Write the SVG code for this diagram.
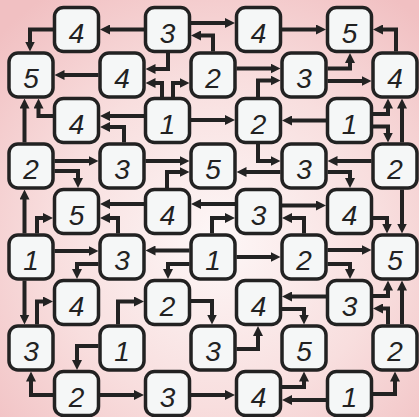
<svg xmlns="http://www.w3.org/2000/svg" width="419" height="417" viewBox="0 0 419 417">
<defs>
<radialGradient id="bg" cx="0.52" cy="0.58" r="0.72">
<stop offset="0" stop-color="#fdf7f7"/>
<stop offset="0.55" stop-color="#f8dede"/>
<stop offset="1" stop-color="#f1c0c2"/>
</radialGradient>
<marker id="ah" markerUnits="userSpaceOnUse" markerWidth="10" markerHeight="10" refX="2" refY="5" orient="auto">
<path d="M0,0 L10,5 L0,10 Z" fill="#222"/>
</marker>
<style>
.node rect{fill:#f5f7f7;stroke:#222;stroke-width:3.5}
.node text{font-family:"Liberation Sans","DejaVu Sans",sans-serif;font-size:28px;font-style:italic;fill:#222;text-anchor:middle}
#connectors path{fill:none;stroke:#222;stroke-width:4;marker-end:url(#ah)}
</style>
</defs>
<rect width="419" height="417" fill="url(#bg)"/>
<g id="connectors">
<path d="M144,29.5 H108"/>
<path d="M53,29.5 H30 V43.5"/>
<path d="M191,23 H227"/>
<path d="M213,51.5 V35.5 H199"/>
<path d="M282,29.5 H318"/>
<path d="M396,51.5 V29.5 H381"/>
<path d="M168,53 V69 H153.5"/>
<path d="M98.5,75 H62.5"/>
<path d="M162,97 V83 H153.5"/>
<path d="M173,97 V83 H181.5"/>
<path d="M236.5,68.5 H272.5"/>
<path d="M258,97 V80.5 H272.5"/>
<path d="M327.5,68.5 H350 V61"/>
<path d="M327.5,81 H363.5"/>
<path d="M144,116 H108"/>
<path d="M53,116 H38.5 V106.5"/>
<path d="M24.5,142.5 V106.5"/>
<path d="M124,142.5 V127 H108"/>
<path d="M191,120 H227"/>
<path d="M326,120.5 H290"/>
<path d="M373,114 H388 V106.5"/>
<path d="M373,126.5 H388 V134.5"/>
<path d="M402,142.5 V106.5"/>
<path d="M54.5,161 H90.5"/>
<path d="M54.5,171 H78 V180"/>
<path d="M145.5,161 H181.5"/>
<path d="M167,188 V172 H181.5"/>
<path d="M258,144 V161 H272.5"/>
<path d="M280.5,172 H244.5"/>
<path d="M371.5,161 H335.5"/>
<path d="M327.5,172 H350 V180"/>
<path d="M402,189.5 V225.5"/>
<path d="M144,204 H108"/>
<path d="M235,204 H199"/>
<path d="M282,205.5 H318"/>
<path d="M373,218 H387 V225.5"/>
<path d="M24.5,233.5 V197.5"/>
<path d="M37,233.5 V218 H45"/>
<path d="M118,233.5 V218 H108"/>
<path d="M212,233.5 V218 H227"/>
<path d="M304,233.5 V218 H290"/>
<path d="M54.5,251 H90.5"/>
<path d="M189.5,250.5 H153.5"/>
<path d="M236.5,257 H272.5"/>
<path d="M327.5,250 H363.5"/>
<path d="M98.5,264 H77 V271"/>
<path d="M189.5,264 H168 V271"/>
<path d="M327.5,264 H350 V271"/>
<path d="M24.5,280.5 V316.5"/>
<path d="M37,324.5 V301.5 H45"/>
<path d="M118,324.5 V301.5 H136"/>
<path d="M191,301 H212 V316.5"/>
<path d="M236.5,349 H258 V334"/>
<path d="M326,296.5 H290"/>
<path d="M282,309 H304 V316.5"/>
<path d="M373,296 H388 V288.5"/>
<path d="M388,324.5 V308.5 H381"/>
<path d="M402,324.5 V288.5"/>
<path d="M98.5,346 H77 V362"/>
<path d="M53,395 H31 V379.5"/>
<path d="M100,395 H136"/>
<path d="M191,395 H227"/>
<path d="M282,387 H304 V379.5"/>
<path d="M326,400 H290"/>
<path d="M373,394 H395 V379.5"/>
</g>
<g id="n-r0c1" class="node"><rect x="54.5" y="7.5" width="44" height="44" rx="9"/><text x="76.5" y="42.5">4</text></g>
<g id="n-r0c3" class="node"><rect x="145.5" y="7.5" width="44" height="44" rx="9"/><text x="167.5" y="42.5">3</text></g>
<g id="n-r0c5" class="node"><rect x="236.5" y="7.5" width="44" height="44" rx="9"/><text x="258.5" y="42.5">4</text></g>
<g id="n-r0c7" class="node"><rect x="327.5" y="7.5" width="44" height="44" rx="9"/><text x="349.5" y="42.5">5</text></g>
<g id="n-r1c0" class="node"><rect x="9" y="53" width="44" height="44" rx="9"/><text x="31" y="88">5</text></g>
<g id="n-r1c2" class="node"><rect x="100" y="53" width="44" height="44" rx="9"/><text x="122" y="88">4</text></g>
<g id="n-r1c4" class="node"><rect x="191" y="53" width="44" height="44" rx="9"/><text x="213" y="88">2</text></g>
<g id="n-r1c6" class="node"><rect x="282" y="53" width="44" height="44" rx="9"/><text x="304" y="88">3</text></g>
<g id="n-r1c8" class="node"><rect x="373" y="53" width="44" height="44" rx="9"/><text x="395" y="88">4</text></g>
<g id="n-r2c1" class="node"><rect x="54.5" y="98.5" width="44" height="44" rx="9"/><text x="76.5" y="133.5">4</text></g>
<g id="n-r2c3" class="node"><rect x="145.5" y="98.5" width="44" height="44" rx="9"/><text x="167.5" y="133.5">1</text></g>
<g id="n-r2c5" class="node"><rect x="236.5" y="98.5" width="44" height="44" rx="9"/><text x="258.5" y="133.5">2</text></g>
<g id="n-r2c7" class="node"><rect x="327.5" y="98.5" width="44" height="44" rx="9"/><text x="349.5" y="133.5">1</text></g>
<g id="n-r3c0" class="node"><rect x="9" y="144" width="44" height="44" rx="9"/><text x="31" y="179">2</text></g>
<g id="n-r3c2" class="node"><rect x="100" y="144" width="44" height="44" rx="9"/><text x="122" y="179">3</text></g>
<g id="n-r3c4" class="node"><rect x="191" y="144" width="44" height="44" rx="9"/><text x="213" y="179">5</text></g>
<g id="n-r3c6" class="node"><rect x="282" y="144" width="44" height="44" rx="9"/><text x="304" y="179">3</text></g>
<g id="n-r3c8" class="node"><rect x="373" y="144" width="44" height="44" rx="9"/><text x="395" y="179">2</text></g>
<g id="n-r4c1" class="node"><rect x="54.5" y="189.5" width="44" height="44" rx="9"/><text x="76.5" y="224.5">5</text></g>
<g id="n-r4c3" class="node"><rect x="145.5" y="189.5" width="44" height="44" rx="9"/><text x="167.5" y="224.5">4</text></g>
<g id="n-r4c5" class="node"><rect x="236.5" y="189.5" width="44" height="44" rx="9"/><text x="258.5" y="224.5">3</text></g>
<g id="n-r4c7" class="node"><rect x="327.5" y="189.5" width="44" height="44" rx="9"/><text x="349.5" y="224.5">4</text></g>
<g id="n-r5c0" class="node"><rect x="9" y="235" width="44" height="44" rx="9"/><text x="31" y="270">1</text></g>
<g id="n-r5c2" class="node"><rect x="100" y="235" width="44" height="44" rx="9"/><text x="122" y="270">3</text></g>
<g id="n-r5c4" class="node"><rect x="191" y="235" width="44" height="44" rx="9"/><text x="213" y="270">1</text></g>
<g id="n-r5c6" class="node"><rect x="282" y="235" width="44" height="44" rx="9"/><text x="304" y="270">2</text></g>
<g id="n-r5c8" class="node"><rect x="373" y="235" width="44" height="44" rx="9"/><text x="395" y="270">5</text></g>
<g id="n-r6c1" class="node"><rect x="54.5" y="280.5" width="44" height="44" rx="9"/><text x="76.5" y="315.5">4</text></g>
<g id="n-r6c3" class="node"><rect x="145.5" y="280.5" width="44" height="44" rx="9"/><text x="167.5" y="315.5">2</text></g>
<g id="n-r6c5" class="node"><rect x="236.5" y="280.5" width="44" height="44" rx="9"/><text x="258.5" y="315.5">4</text></g>
<g id="n-r6c7" class="node"><rect x="327.5" y="280.5" width="44" height="44" rx="9"/><text x="349.5" y="315.5">3</text></g>
<g id="n-r7c0" class="node"><rect x="9" y="326" width="44" height="44" rx="9"/><text x="31" y="361">3</text></g>
<g id="n-r7c2" class="node"><rect x="100" y="326" width="44" height="44" rx="9"/><text x="122" y="361">1</text></g>
<g id="n-r7c4" class="node"><rect x="191" y="326" width="44" height="44" rx="9"/><text x="213" y="361">3</text></g>
<g id="n-r7c6" class="node"><rect x="282" y="326" width="44" height="44" rx="9"/><text x="304" y="361">5</text></g>
<g id="n-r7c8" class="node"><rect x="373" y="326" width="44" height="44" rx="9"/><text x="395" y="361">2</text></g>
<g id="n-r8c1" class="node"><rect x="54.5" y="371.5" width="44" height="44" rx="9"/><text x="76.5" y="406.5">2</text></g>
<g id="n-r8c3" class="node"><rect x="145.5" y="371.5" width="44" height="44" rx="9"/><text x="167.5" y="406.5">3</text></g>
<g id="n-r8c5" class="node"><rect x="236.5" y="371.5" width="44" height="44" rx="9"/><text x="258.5" y="406.5">4</text></g>
<g id="n-r8c7" class="node"><rect x="327.5" y="371.5" width="44" height="44" rx="9"/><text x="349.5" y="406.5">1</text></g>
</svg>
